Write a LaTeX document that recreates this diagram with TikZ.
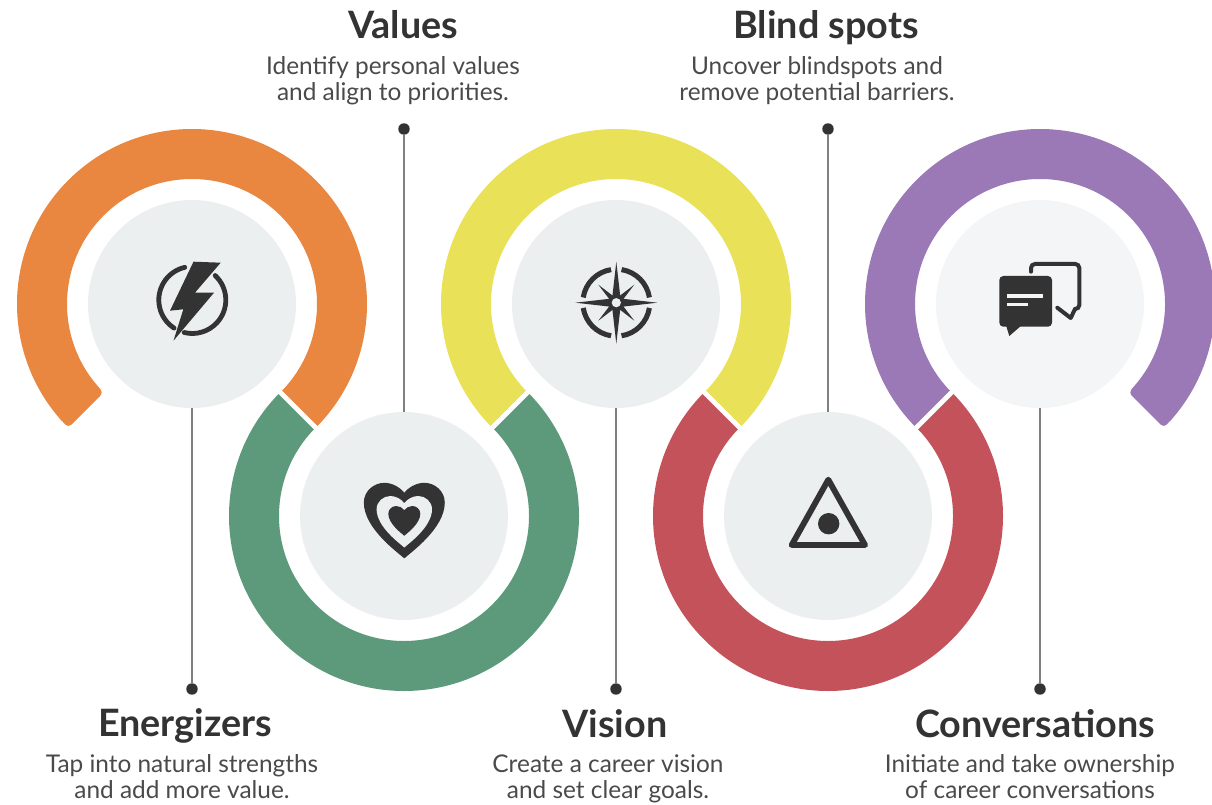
\documentclass[tikz,border=0pt]{standalone}
\usepackage{fontspec}
\setmainfont{Lato}
\definecolor{orng}{HTML}{E98640}
\definecolor{grn}{HTML}{5C9A7B}
\definecolor{ylw}{HTML}{E9E158}
\definecolor{rd}{HTML}{C4525A}
\definecolor{prp}{HTML}{9B79B6}
\definecolor{disc}{HTML}{ECEFF0}
\definecolor{disclight}{HTML}{F3F5F6}
\definecolor{ink}{HTML}{333333}
\definecolor{stem}{HTML}{808080}
\definecolor{bodyc}{HTML}{4A4A4A}
\newcommand{\ringarc}[5]{\fill[#5] (#1,#2)++(#3:175) arc[start angle=#3,end angle=#4,radius=175] -- ++(#4:-50) arc[start angle=#4,end angle=#3,radius=125] -- cycle;}
\newcommand{\ringcap}[5]{\fill[#5,rounded corners=3.2pt] ($(#1,#2)+(#3:125.2)$) -- ($(#1,#2)+(#3:175)$) -- ($(#1,#2)+(#4:175)$) -- ($(#1,#2)+(#4:125.2)$) -- cycle;}
\newcommand{\gapline}[4]{\draw[white,line width=3.6pt] (#1-#3,#2-#4) -- (#1+#3,#2+#4);}
\newcommand{\hrtpath}{(0,1.86) .. controls (-.15,1.72) and (-1,1.12) .. (-1,.48) .. controls (-1,.2) and (-.76,0) .. (-.5,0) .. controls (-.3,0) and (-.1,.12) .. (0,.26) .. controls (.1,.12) and (.3,0) .. (.5,0) .. controls (.76,0) and (1,.2) .. (1,.48) .. controls (1,1.12) and (.15,1.72) .. (0,1.86) -- cycle}
\usetikzlibrary{calc}
\tikzset{
  discnode/.style={circle,fill=disc,minimum size=156pt,inner sep=0pt,outer sep=0pt},
  dotnode/.style={circle,fill=ink,minimum size=8.6pt,inner sep=0pt,outer sep=0pt},
  stemline/.style={draw=stem,line width=1.8pt},
  titletext/.style={font=\fontsize{28.3}{32}\selectfont\bfseries,text=ink,inner sep=0pt},
  bodytext/.style={font=\fontsize{18.3}{19.6}\selectfont,text=bodyc,align=center,inner sep=0pt},
  iconline/.style={draw=ink,line width=3.6pt}
}
\begin{document}
\begin{tikzpicture}[x=.75pt,y=-.75pt]
\useasboundingbox (0,0) rectangle (1212,805);
% rings
\ringarc{192}{304}{138}{405}{orng}
\ringcap{192}{304}{135}{140}{orng}
\ringarc{404}{516}{225}{-45}{grn}
\ringarc{616}{304}{135}{405}{ylw}
\ringarc{828}{516}{225}{-45}{rd}
\ringarc{1040}{304}{135}{402}{prp}
\ringcap{1040}{304}{45}{40}{prp}
% gaps between rings
\gapline{298}{410}{20}{20}
\gapline{510}{410}{20}{-20}
\gapline{722}{410}{20}{20}
\gapline{934}{410}{20}{-20}
% discs
\node[discnode] (a) at (192,304) {};
\node[discnode] (b) at (404,516) {};
\node[discnode] (c) at (616,304) {};
\node[discnode] (d) at (828,516) {};
\node[discnode,fill=disclight] (e) at (1040,304) {};
% dots and stems
\node[dotnode] (da) at (192,689) {};
\node[dotnode] (db) at (404,129) {};
\node[dotnode] (dc) at (616,689) {};
\node[dotnode] (dd) at (828,129) {};
\node[dotnode] (de) at (1040,689) {};
\draw[stemline] (a) -- (da);
\draw[stemline] (b) -- (db);
\draw[stemline] (c) -- (dc);
\draw[stemline] (d) -- (dd);
\draw[stemline] (e) -- (de);
% bolt icon
\begin{scope}[shift={(192.3,300)}]
\draw[iconline,line cap=round] (257:33.5) arc[start angle=257,end angle=123,radius=33.5];
\draw[iconline,line cap=round] (-47:33.5) arc[start angle=-47,end angle=104,radius=33.5];
\end{scope}
\fill[ink,line join=round] (193.5,261.7) -- (220.7,262.7) -- (195,292.7) -- (214,292.7) -- (173.5,340.7) -- (183.3,309.3) -- (170,310.7) -- cycle;
% heart icon
\begin{scope}[shift={(404.3,483.5)},scale=39.8]
\fill[ink] \hrtpath;
\draw[ink,line width=1pt,line join=round] \hrtpath;
\end{scope}
\begin{scope}[shift={(404.3,496)},scale=27.7]
\fill[disc] \hrtpath;
\end{scope}
\begin{scope}[shift={(404.3,506)},scale=16]
\fill[ink] \hrtpath;
\end{scope}
% compass icon
\begin{scope}[shift={(616.3,302.7)}]
\foreach \s/\e in {189/261,279/351,9/81,99/171}
  \draw[iconline,line width=3.8pt] (\s:33.5) arc[start angle=\s,end angle=\e,radius=33.5];
\foreach \r in {45,135,225,315}
  \fill[ink] (\r:25.5) -- (\r+90:3.4) -- (\r-90:3.4) -- cycle;
\fill[ink] (0,-41) -- (4.2,-4.2) -- (41,0) -- (4.2,4.2) -- (0,41) -- (-4.2,4.2) -- (-41,0) -- (-4.2,-4.2) -- cycle;
\fill[ink] (0,0) circle[radius=8];
\fill[disc] (0,0) circle[radius=4.6];
\end{scope}
% warning icon
\draw[iconline,line width=4.4pt,line join=round] (828.3,479.7) -- (865,545) -- (791.7,545) -- cycle;
\fill[ink] (828.7,523.7) circle[radius=10.7];
% chat icon
\draw[iconline,line width=3pt,rounded corners=3pt,line cap=round] (1031,271.7) -- (1031,264) -- (1079.3,264) -- (1079.3,309) -- (1075,309);
\draw[iconline,line width=3pt,line cap=round,line join=round] (1075,309) -- (1070.7,318) -- (1057.3,307.7);
\fill[ink,rounded corners=3pt] (999.3,276) rectangle (1052,326.7);
\fill[ink,line join=round] (1005,322) -- (1009.3,336) -- (1022,325) -- cycle;
\draw[disclight,line width=3pt] (1007.3,296) -- (1043.3,296);
\draw[disclight,line width=2.6pt] (1007.3,304.5) -- (1028.3,304.5);
% labels
\node[titletext] (ta) at (185,728) {\strut Energizers};
\node[bodytext] (pa) at (182,780) {\strut Tap into natural strengths\\\strut and add more value.};
\node[titletext] (tb) at (403,30) {\strut Values};
\node[bodytext] (pb) at (393,82) {\strut Identify personal values\\\strut and align to priorities.};
\node[titletext] (tc) at (615,729) {\strut Vision};
\node[bodytext] (pc) at (608,780) {\strut Create a career vision\\\strut and set clear goals.};
\node[titletext] (td) at (826,30) {\strut Blind spots};
\node[bodytext] (pd) at (817,82) {\strut Uncover blindspots and\\\strut remove potential barriers.};
\node[titletext] (te) at (1035,729) {\strut Conversations};
\node[bodytext] (pe) at (1030,780) {\strut Initiate and take ownership\\\strut of career conversations};
\end{tikzpicture}
\end{document}
